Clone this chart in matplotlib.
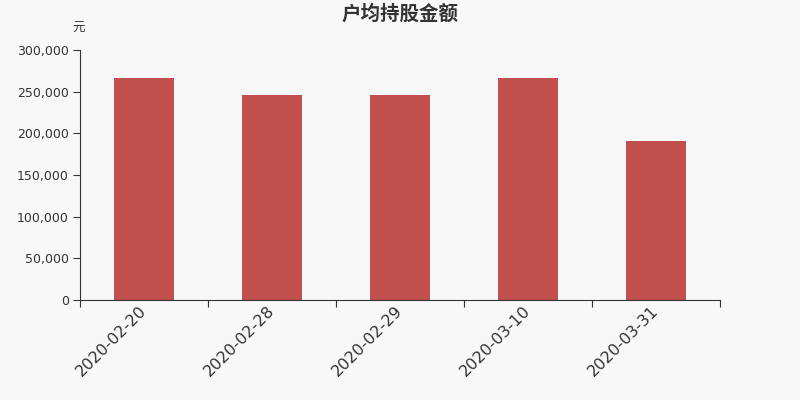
import matplotlib
matplotlib.use("Agg")
import matplotlib.pyplot as plt
from matplotlib.ticker import FuncFormatter

plt.rcParams['font.family'] = ['DejaVu Sans', 'Noto Sans CJK SC']

categories = ["2020-02-20", "2020-02-28", "2020-02-29", "2020-03-10", "2020-03-31"]
values = [267000, 245500, 245500, 266000, 190800]
yticks = [0, 50000, 100000, 150000, 200000, 250000, 300000]

bg = "#f8f8f8"
fig = plt.figure(figsize=(8, 4), dpi=100, facecolor=bg)
ax = fig.add_axes([0.1, 0.25, 0.8, 0.625])
ax.set_facecolor(bg)

x = list(range(len(categories)))
ax.bar(x, values, width=0.47, color="#c0504d", zorder=2)
ax.set_xlim(-0.5, len(categories) - 0.5)
ax.set_ylim(0, 300000)
ax.set_yticks(yticks)
ax.yaxis.set_major_formatter(FuncFormatter(lambda v, p: f"{int(v):,}"))
ax.set_xticks([i - 0.5 for i in range(len(categories) + 1)], minor=False)
ax.set_xticklabels([])
ax.set_xticks(x, minor=True)
ax.set_xticklabels(categories, minor=True, rotation=45, ha="right", va="center",
                   rotation_mode="anchor", fontsize=11.5, color="#333333")
ax.tick_params(axis="x", which="minor", length=0, pad=6)
ax.tick_params(axis="x", which="major", length=5, color="#333333")
ax.tick_params(axis="y", length=5, pad=3, color="#333333", labelsize=9, labelcolor="#333333")

for s in ["top", "right"]:
    ax.spines[s].set_visible(False)
for s in ["left", "bottom"]:
    ax.spines[s].set_color("#333333")

fig.text(0.5, 0.965, "户均持股金额", ha="center", va="center", fontsize=14,
         fontweight="bold", color="#333333", family=['Noto Sans CJK SC', 'DejaVu Sans'])
fig.text(0.09, 0.928, "元", ha="left", va="center", fontsize=9, color="#333333",
         family=['Noto Sans CJK SC', 'DejaVu Sans'])

fig.savefig("out.png", dpi=100, facecolor=bg)
